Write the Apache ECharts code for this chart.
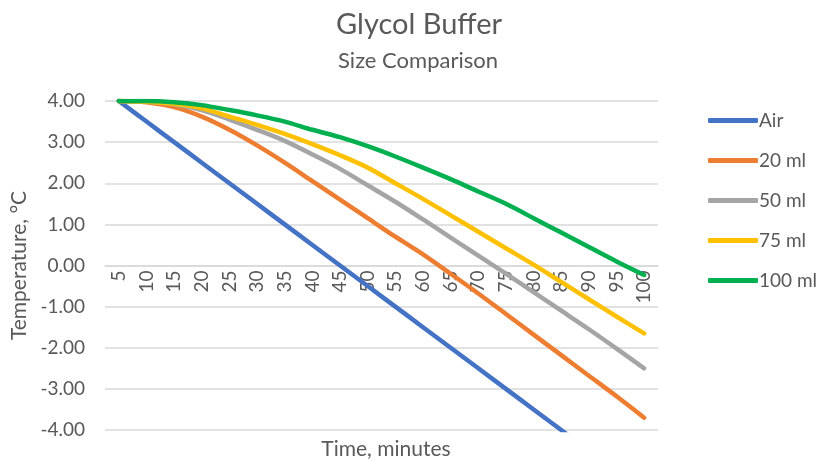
<!DOCTYPE html>
<html>
<head>
<meta charset="utf-8">
<script src="https://cdn.jsdelivr.net/npm/echarts@6/dist/echarts.min.js"></script>
<style>
  html, body { margin: 0; padding: 0; background: #fff; }
  #chart { width: 817px; height: 461px; }
</style>
</head>
<body>
<div id="chart"></div>
<script>
var minutes = ['5', '10', '15', '20', '25', '30', '35', '40', '45', '50',
  '55', '60', '65', '70', '75', '80', '85', '90', '95', '100'];

var air = [4.0, 3.5, 3.0, 2.5, 2.0, 1.5, 1.0, 0.5, 0.0, -0.5,
  -1.0, -1.5, -2.0, -2.5, -3.0, -3.5, -4.0, -4.5, -5.0, -5.5];
var ml20 = [4.0, 3.97, 3.85, 3.62, 3.3, 2.92, 2.5, 2.05, 1.6, 1.15,
  0.7, 0.27, -0.2, -0.68, -1.18, -1.68, -2.18, -2.68, -3.18, -3.7];
var ml50 = [4.0, 3.98, 3.92, 3.78, 3.55, 3.3, 3.03, 2.7, 2.35, 1.95,
  1.55, 1.12, 0.68, 0.24, -0.2, -0.65, -1.1, -1.55, -2.02, -2.5];
var ml75 = [4.0, 3.98, 3.93, 3.82, 3.62, 3.42, 3.2, 2.95, 2.68, 2.38,
  2.0, 1.62, 1.22, 0.82, 0.42, 0.02, -0.4, -0.82, -1.24, -1.65];
var ml100 = [4.0, 4.0, 3.97, 3.9, 3.78, 3.65, 3.5, 3.3, 3.12, 2.9,
  2.65, 2.38, 2.1, 1.8, 1.5, 1.15, 0.8, 0.45, 0.1, -0.23];

var seriesNames = ['Air', '20 ml', '50 ml', '75 ml', '100 ml'];
var seriesData = [air, ml20, ml50, ml75, ml100];
var colors = ['#4472C4', '#ED7D31', '#A5A5A5', '#FFC000', '#00B050'];

var font = 'Lato, "Open Sans", sans-serif';
var textColor = '#595959';

var series = [];
for (var i = 0; i < seriesNames.length; i++) {
  series.push({
    name: seriesNames[i],
    type: 'line',
    data: seriesData[i],
    smooth: 0.3,
    symbol: 'none',
    clip: true,
    z: 5,
    lineStyle: { width: 4.5, color: colors[i], cap: 'round' },
    itemStyle: { color: colors[i] }
  });
}

var myChart = echarts.init(document.getElementById('chart'));
myChart.setOption({
  animation: false,
  color: colors,
  title: [
    {
      text: 'Glycol Buffer',
      left: 414, top: 5, textAlign: 'center',
      textStyle: { fontFamily: font, fontSize: 29, fontWeight: 'normal', color: textColor }
    },
    {
      text: 'Size Comparison',
      left: 413, top: 45, textAlign: 'center',
      textStyle: { fontFamily: font, fontSize: 22, fontWeight: 'normal', color: textColor }
    },
    {
      text: 'Time, minutes',
      left: 381, top: 434, textAlign: 'center',
      textStyle: { fontFamily: font, fontSize: 21, fontWeight: 'normal', color: textColor }
    }
  ],
  legend: {
    orient: 'vertical',
    left: 703,
    top: 106,
    itemWidth: 50,
    itemHeight: 5,
    itemGap: 21,
    icon: 'roundRect',
    data: seriesNames,
    textStyle: { fontFamily: font, fontSize: 19, color: textColor, padding: [0, 0, 0, -4] }
  },
  grid: {
    left: 105,
    right: 159,
    top: 101,
    bottom: 31,
    containLabel: false
  },
  xAxis: {
    type: 'category',
    data: minutes,
    boundaryGap: true,
    offset: -164.5,
    axisLine: { onZero: false, lineStyle: { color: '#d9d9d9', width: 1.5 } },
    axisTick: { show: false },
    axisLabel: {
      rotate: 90,
      interval: 0,
      margin: 5,
      fontFamily: font,
      fontSize: 19,
      color: textColor
    },
    splitLine: { show: false }
  },
  yAxis: {
    type: 'value',
    min: -4,
    max: 4,
    interval: 1,
    name: 'Temperature, °C',
    nameLocation: 'middle',
    nameGap: 72,
    nameTextStyle: { fontFamily: font, fontSize: 21, color: textColor },
    axisLine: { show: false },
    axisTick: { show: false },
    axisLabel: {
      margin: 20,
      fontFamily: font,
      fontSize: 19,
      color: textColor,
      formatter: function (v) { return v.toFixed(2); }
    },
    splitLine: { lineStyle: { color: '#d9d9d9', width: 1.5 } }
  },
  series: series
});
</script>
</body>
</html>
